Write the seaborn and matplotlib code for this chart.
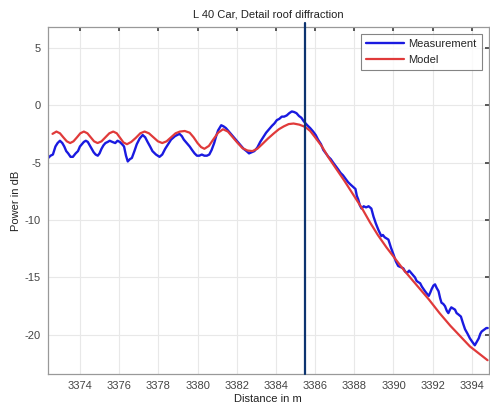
import numpy as np
import pandas as pd
import matplotlib
matplotlib.use("Agg")
import matplotlib.pyplot as plt
import seaborn as sns

# ---- data ----
meas_distance = [3372.38, 3372.5, 3372.62, 3372.75, 3372.86, 3372.98, 3373.1, 3373.2, 3373.3,
                 3373.4, 3373.52, 3373.64, 3373.78, 3373.9, 3374.0, 3374.1, 3374.2,
                 3374.3, 3374.4, 3374.5, 3374.6, 3374.7, 3374.8, 3374.91, 3375.0, 3375.1,
                 3375.2, 3375.3, 3375.42, 3375.52, 3375.65, 3375.8, 3375.92, 3376.03,
                 3376.15, 3376.25, 3376.35, 3376.44, 3376.55, 3376.65, 3376.78, 3376.9,
                 3377.05, 3377.2, 3377.33, 3377.45, 3377.58, 3377.7, 3377.88, 3378.06,
                 3378.2, 3378.35, 3378.5, 3378.65, 3378.85, 3379.08, 3379.2, 3379.3,
                 3379.45, 3379.6, 3379.72, 3379.85, 3379.97, 3380.09, 3380.22, 3380.35,
                 3380.48, 3380.6, 3380.72, 3380.85, 3380.95, 3381.05, 3381.21, 3381.33,
                 3381.45, 3381.6, 3381.75, 3381.9, 3382.05, 3382.2, 3382.35, 3382.5,
                 3382.63, 3382.77, 3382.9, 3383.05, 3383.2, 3383.35, 3383.5, 3383.65,
                 3383.8, 3383.92, 3384.05, 3384.17, 3384.3, 3384.42, 3384.55, 3384.68,
                 3384.81, 3384.93, 3385.05, 3385.18, 3385.3, 3385.42, 3385.52, 3385.63,
                 3385.75, 3385.9, 3386.03, 3386.15, 3386.3, 3386.42, 3386.55, 3386.68,
                 3386.8, 3386.92, 3387.05, 3387.18, 3387.3, 3387.42, 3387.55, 3387.68,
                 3387.8, 3387.93, 3388.06, 3388.13, 3388.2, 3388.28, 3388.37, 3388.48,
                 3388.6, 3388.73, 3388.87, 3388.98, 3389.1, 3389.24, 3389.38, 3389.46,
                 3389.55, 3389.64, 3389.74, 3389.87, 3390.0, 3390.12, 3390.24, 3390.37,
                 3390.5, 3390.6, 3390.7, 3390.8, 3390.9, 3391.0, 3391.1, 3391.18, 3391.26,
                 3391.36, 3391.45, 3391.53, 3391.61, 3391.7, 3391.8, 3391.88, 3391.95,
                 3392.04, 3392.12, 3392.2, 3392.3, 3392.38, 3392.45, 3392.54, 3392.63,
                 3392.72, 3392.8, 3392.88, 3392.95, 3393.05, 3393.14, 3393.22, 3393.3,
                 3393.37, 3393.44, 3393.55, 3393.65, 3393.78, 3393.9, 3394.02, 3394.15,
                 3394.25, 3394.35, 3394.43, 3394.5, 3394.58, 3394.66, 3394.74, 3394.81]
meas_power = [-4.6, -4.4, -4.3, -3.6, -3.3, -3.1, -3.3, -3.6, -4.0,
              -4.2, -4.5, -4.5, -4.2, -4.0, -3.6, -3.4, -3.2,
              -3.1, -3.2, -3.5, -3.8, -4.1, -4.3, -4.4, -4.2, -3.8,
              -3.5, -3.3, -3.2, -3.1, -3.2, -3.3, -3.1, -3.2,
              -3.4, -3.6, -4.4, -4.9, -4.7, -4.6, -4.0, -3.4,
              -2.9, -2.6, -2.8, -3.2, -3.6, -4.0, -4.3, -4.5,
              -4.3, -3.8, -3.4, -3.0, -2.7, -2.5, -2.7, -3.0,
              -3.3, -3.6, -3.9, -4.2, -4.4, -4.4, -4.3, -4.4,
              -4.4, -4.3, -3.9, -3.3, -2.7, -2.2, -1.75, -1.85,
              -2.0, -2.3, -2.6, -2.9, -3.2, -3.5, -3.8, -4.0,
              -4.2, -4.1, -4.0, -3.7, -3.2, -2.8, -2.4, -2.1,
              -1.8, -1.6, -1.3, -1.2, -1.0, -1.0, -0.9, -0.7,
              -0.55, -0.6, -0.7, -0.95, -1.1, -1.4, -1.6, -1.8,
              -2.0, -2.3, -2.6, -3.0, -3.4, -3.9, -4.2, -4.5,
              -4.7, -5.0, -5.3, -5.6, -5.9, -6.1, -6.4, -6.7,
              -6.9, -7.1, -7.3, -7.9, -8.2, -8.7, -9.0, -8.8,
              -8.9, -8.8, -9.0, -9.7, -10.3, -10.9, -11.4, -11.3,
              -11.5, -11.6, -11.7, -12.4, -13.0, -13.6, -14.0, -14.1,
              -14.2, -14.5, -14.6, -14.4, -14.6, -14.8, -15.0, -15.3, -15.4,
              -15.5, -15.8, -16.0, -16.2, -16.4, -16.6, -16.3, -16.0,
              -15.7, -15.6, -15.9, -16.2, -16.8, -17.2, -17.3, -17.5,
              -17.9, -18.1, -17.8, -17.6, -17.7, -17.8, -18.1, -18.2,
              -18.3, -18.4, -19.0, -19.5, -19.9, -20.3, -20.6, -20.9,
              -20.6, -20.3, -19.9, -19.7, -19.6, -19.5, -19.4, -19.4]

model_distance = [3372.6, 3372.8, 3372.98, 3373.15, 3373.33, 3373.5, 3373.67, 3373.85,
                  3374.02, 3374.2, 3374.38, 3374.55, 3374.72, 3374.9, 3375.1, 3375.3,
                  3375.5, 3375.7, 3375.88, 3376.05, 3376.22, 3376.4, 3376.62, 3376.85,
                  3377.08, 3377.3, 3377.52, 3377.75, 3377.98, 3378.2, 3378.42, 3378.65,
                  3378.88, 3379.1, 3379.35, 3379.6, 3379.8, 3380.0, 3380.18, 3380.35,
                  3380.58, 3380.8, 3381.05, 3381.3, 3381.55, 3381.8, 3382.05, 3382.3,
                  3382.55, 3382.8, 3383.05, 3383.3, 3383.6, 3383.9, 3384.15, 3384.4,
                  3384.65, 3384.9, 3385.2, 3385.5, 3385.75, 3386.0, 3386.35, 3386.7,
                  3387.1, 3387.5, 3387.95, 3388.4, 3388.8, 3389.2, 3389.65, 3390.1,
                  3390.55, 3391.0, 3391.4, 3391.8, 3392.35, 3392.9, 3393.4, 3393.9,
                  3394.35, 3394.8]
model_power = [-2.5, -2.3, -2.45, -2.8, -3.15, -3.3, -3.15, -2.8,
               -2.45, -2.3, -2.45, -2.8, -3.15, -3.3, -3.15, -2.8,
               -2.45, -2.3, -2.45, -2.85, -3.25, -3.4, -3.2, -2.85,
               -2.45, -2.3, -2.45, -2.8, -3.15, -3.3, -3.15, -2.8,
               -2.45, -2.3, -2.25, -2.4, -2.8, -3.3, -3.65, -3.8,
               -3.55, -3.0, -2.4, -2.1, -2.3, -2.8, -3.3, -3.75,
               -3.95, -4.0, -3.8, -3.4, -2.9, -2.45, -2.1, -1.85,
               -1.65, -1.6, -1.7, -1.9, -2.25, -2.8, -3.6, -4.6,
               -5.6, -6.6, -7.8, -9.0, -10.2, -11.3, -12.4, -13.4,
               -14.4, -15.3, -16.1, -16.9, -18.1, -19.2, -20.1, -21.0,
               -21.6, -22.2]

marker_distance = 3385.5
x_ticks = [3374, 3376, 3378, 3380, 3382, 3384, 3386, 3388, 3390, 3392, 3394]
y_ticks = [5, 0, -5, -10, -15, -20]

sns.set_theme(style="white")
plt.rcParams['font.family'] = ['Liberation Sans', 'DejaVu Sans']
plt.rcParams['axes.unicode_minus'] = False

meas_df = pd.DataFrame({"Distance": meas_distance, "Power": meas_power})
model_df = pd.DataFrame({"Distance": model_distance, "Power": model_power})

fig = plt.figure(figsize=(4.9, 4.07), dpi=100)
ax = fig.add_axes([48/490, 1-374/407, 1-48/490-0.003, (374-27)/407])

sns.lineplot(data=meas_df, x="Distance", y="Power", ax=ax, color="#1a1ae0",
             linewidth=1.7, label="Measurement", sort=False)
sns.lineplot(data=model_df, x="Distance", y="Power", ax=ax, color="#e03a3a",
             linewidth=1.6, label="Model", sort=False)

ax.axvline(marker_distance, ymin=0, ymax=1.012, color="#0d3470", linewidth=1.6,
           clip_on=False, zorder=5)

ax.set_xlim(3372.37, 3394.85)
ax.set_ylim(-23.4, 6.8)
ax.set_xticks(x_ticks)
ax.set_yticks(y_ticks)
ax.grid(True, color="#e8e8e8", linewidth=0.8, linestyle="-")
ax.tick_params(direction="in", length=3, top=True, right=True, labelsize=8,
               colors="#444444", pad=5)
for sp in ax.spines.values():
    sp.set_color("#999999")
    sp.set_linewidth(0.9)

ax.set_title("L 40 Car, Detail roof diffraction", fontsize=8, color="#222222", pad=7)
ax.set_xlabel("Distance in m", fontsize=8, color="#222222", labelpad=2)
ax.set_ylabel("Power in dB", fontsize=8, color="#222222", labelpad=3)

leg = ax.legend(loc="upper right", fontsize=8, frameon=True, fancybox=False,
                edgecolor="#666666", handlelength=3.4, borderpad=0.45,
                labelspacing=0.55, handletextpad=0.4, borderaxespad=0.6)
leg.get_frame().set_linewidth(0.8)

fig.savefig("out.png", dpi=100)
